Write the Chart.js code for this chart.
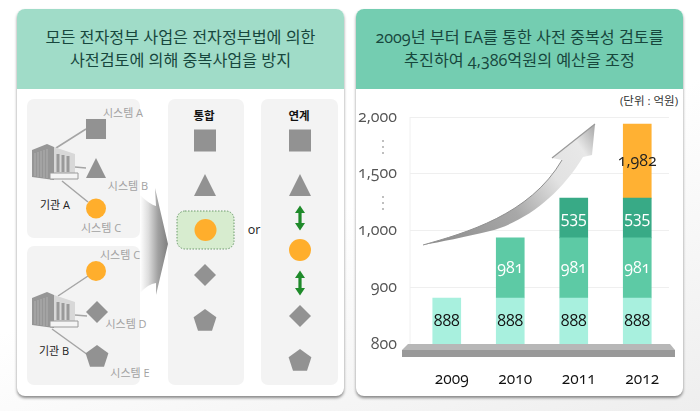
<!DOCTYPE html>
<html lang="ko">
<head>
<meta charset="utf-8">
<title>EA 사전 중복성 검토</title>
<script src="https://cdn.jsdelivr.net/npm/chart.js@4"></script>
<style>
    html, body { margin: 0; padding: 0; }
    body {
        position: relative; width: 700px; height: 411px; overflow: hidden;
        background: linear-gradient(160deg, #ffffff 50%, #eeeeee 100%);
        font-family: "Open Sans", "Noto Sans CJK KR", sans-serif;
        font-feature-settings: "onum";
    }
    .card { position: absolute; top: 9px; width: 327px; height: 387px; background: #fff; border-radius: 8px; box-shadow: 0 2px 3px rgba(0,0,0,0.45); overflow: hidden; }
    .card.left { left: 17px; }
    .card.right { left: 356px; }
    .head { height: 80px; text-align: center; color: #17473d; font-size: 16.2px; line-height: 23px; padding-top: 17px; box-sizing: border-box; }
    .left .head { background: #a0dcc8; }
    .right .head { background: #74cdb1; }
    .box { position: absolute; background: #f3f3f3; border-radius: 7px; }
    .lbl { position: absolute; transform: translate(-50%, -50%); white-space: nowrap; font-size: 11px; color: #a2a2a2; }
    .lbl.dark { color: #222; }
    .lbl.bold { color: #111; font-weight: 700; font-size: 11.5px; }
    #overlay, #diagram { position: absolute; left: 0; top: 0; pointer-events: none; }
    #chartWrap { position: absolute; left: 356px; top: 90px; width: 327px; height: 300px; }
</style>
</head>
<body>
<div class="card left"><div class="head">모든 전자정부 사업은 전자정부법에 의한<br>사전검토에 의해 중복사업을 방지</div></div>
<div class="card right"><div class="head">2009년 부터 EA를 통한 사전 중복성 검토를<br>추진하여 4,386억원의 예산을 조정</div></div>

<div class="box" style="left:27px;top:99px;width:113px;height:139px"></div>
<div class="box" style="left:27px;top:246px;width:113px;height:139px"></div>
<div class="box" style="left:168px;top:99px;width:76px;height:286px"></div>
<div class="box" style="left:261px;top:99px;width:77px;height:286px"></div>

<svg id="diagram" width="700" height="411">
    <defs>
        <rect id="sq" x="-11" y="-11" width="22" height="22" fill="#929292"/>
        <polygon id="tri" points="0,-12 11,10 -11,10" fill="#929292"/>
        <polygon id="dia" points="0,-11 11,0 0,11 -11,0" fill="#929292"/>
        <polygon id="pen" points="0,-12 11.4,-3.7 7,9.7 -7,9.7 -11.4,-3.7" fill="#929292"/>
        <path id="dbl" d="M0,-12.5 L5,-5 L1.6,-5 L1.6,5 L5,5 L0,12.5 L-5,5 L-1.6,5 L-1.6,-5 L-5,-5 Z" fill="#1f8a2a"/>
        <g id="bld">
            <polygon points="0,6 15,0 22,3 22,36 0,33" fill="#969696"/>
            <path d="M3,9V32M6,8V33M9,7V33M12,6V34M15,5V34" stroke="#b0b0b0" stroke-width="1"/>
            <polygon points="22,3 43,10 43,30 22,30" fill="#d8d8d8"/>
            <path d="M26,10V28M31,11V28M36,12V28" stroke="#9a9a9a" stroke-width="3"/>
            <polygon points="18,29 46,29 46,35 18,35" fill="#f4f4f4" stroke="#9a9a9a" stroke-width="1"/>
        </g>
        <linearGradient id="bigArrow" x1="0" x2="1" y1="0" y2="0">
            <stop offset="0" stop-color="#ffffff"/>
            <stop offset="0.3" stop-color="#dddddd"/>
            <stop offset="0.65" stop-color="#a0a0a0"/>
            <stop offset="1" stop-color="#7f7f7f"/>
        </linearGradient>
    </defs>

    <g stroke="#a5a5a5" stroke-width="1.5">
        <path d="M56,148L86,129M75,167L86,168M62,181L88,202M58,296L88,276M75,315L87,316M52,329L88,355"/>
    </g>
    <use href="#bld" x="32" y="144"/>
    <use href="#bld" x="32" y="292"/>
    <use href="#sq" transform="translate(96,129) scale(.91)"/>
    <use href="#tri" transform="translate(96,169) scale(.91)"/>
    <circle cx="96" cy="208.5" r="10" fill="#ffae2c"/>
    <circle cx="96" cy="271" r="10" fill="#ffae2c"/>
    <use href="#dia" x="97" y="312"/>
    <use href="#pen" x="97" y="357"/>

    <path d="M140,195 Q149,204 156,206 L155,188 L168,244 L156,295 L156,283 Q148,284 140,293 Z" fill="url(#bigArrow)"/>

    <use href="#sq" x="205" y="140.5"/>
    <use href="#tri" x="205" y="186"/>
    <rect x="177" y="211" width="57" height="38" rx="8" fill="#d7eccf" stroke="#6b9a6b" stroke-dasharray="1.5 1.5"/>
    <circle cx="205.5" cy="230" r="11" fill="#ffae2c"/>
    <use href="#dia" x="205" y="275"/>
    <use href="#pen" x="205" y="321"/>

    <use href="#sq" x="300" y="140.5"/>
    <use href="#tri" x="300" y="186"/>
    <use href="#dbl" x="300" y="218"/>
    <circle cx="300" cy="250" r="11" fill="#ffae2c"/>
    <use href="#dbl" x="300" y="283"/>
    <use href="#dia" x="300" y="316"/>
    <use href="#pen" x="300" y="361"/>
</svg>

<span class="lbl" style="left:123px;top:112px">시스템 A</span>
<span class="lbl" style="left:128px;top:185px">시스템 B</span>
<span class="lbl dark" style="left:55px;top:204px">기관 A</span>
<span class="lbl" style="left:101px;top:227px">시스템 C</span>
<span class="lbl" style="left:120px;top:254px">시스템 C</span>
<span class="lbl" style="left:126px;top:323px">시스템 D</span>
<span class="lbl dark" style="left:54px;top:350px">기관 B</span>
<span class="lbl" style="left:130px;top:372px">시스템 E</span>
<span class="lbl bold" style="left:204px;top:115px">통합</span>
<span class="lbl bold" style="left:299px;top:115px">연계</span>
<span class="lbl dark" style="left:254px;top:229px;font-size:12.5px">or</span>
<span class="lbl dark" style="left:649px;top:100px;font-size:11.5px;color:#333">(단위 : 억원)</span>

<div id="chartWrap"><canvas id="budgetChart" width="327" height="300"></canvas></div>

<svg id="overlay" width="700" height="411">
    <defs>
        <linearGradient id="swoosh" gradientUnits="userSpaceOnUse" x1="423" y1="245" x2="595" y2="124">
            <stop offset="0" stop-color="#8a8a8a"/>
            <stop offset="0.45" stop-color="#a8a8a8"/>
            <stop offset="0.7" stop-color="#e2e2e2"/>
            <stop offset="0.88" stop-color="#e8e8e8"/>
            <stop offset="1" stop-color="#a5a5a5"/>
        </linearGradient>
    </defs>
    <path d="M423,245 C465,233 530,215 562,160 L552,158 L595,124 L592,155 L583,157 C560,195 525,222 490,231 C465,237 440,242 423,245 Z" fill="url(#swoosh)"/>
    <path d="M423,245 C465,233 530,215 562,160" fill="none" stroke="#8f8f8f"/>
    <path d="M552,158 L595,124" fill="none" stroke="#999999" stroke-width="1.2"/>
    <g fill="#aaaaaa">
        <circle cx="383" cy="141" r="1"/><circle cx="383" cy="147" r="1"/><circle cx="383" cy="153" r="1"/>
        <circle cx="383" cy="197" r="1"/><circle cx="383" cy="203" r="1"/><circle cx="383" cy="209" r="1"/>
    </g>
    <path d="M410,117V344" stroke="#f0f0f0"/>
    <polygon points="408,344 670,344 675,350 402,350" fill="#b7b7b7"/>
    <rect x="402" y="350" width="273" height="7" fill="#999999"/>
</svg>

<script>
const years = ['2009', '2010', '2011', '2012'];
const axisTicks = [800, 900, 1000, 1500, 2000];

// printed on the bars
const labels888 = [888, 888, 888, 888];
const labels981 = [null, 981, 981, 981];
const labels535 = [null, null, 535, 535];
const labels1982 = [null, null, null, 1982];

// where the segment tops sit against the broken axis
const tops888 = [881, 881, 881, 881];
const tops981 = [null, 987, 987, 987];
const tops535 = [null, null, 1285, 1285];
const tops1982 = [null, null, null, 1938];

// axis is not linear, each tick gets the same distance
class BrokenScale extends Chart.LinearScale {
    buildTicks() {
        return axisTicks.map(v => ({ value: v }));
    }
    getPixelForValue(value) {
        let i = 0;
        while (i < axisTicks.length - 2 && value > axisTicks[i + 1]) i++;
        const part = (value - axisTicks[i]) / (axisTicks[i + 1] - axisTicks[i]);
        return this.getPixelForDecimal((i + part) / (axisTicks.length - 1));
    }
}
BrokenScale.id = 'broken';
BrokenScale.defaults = Chart.LinearScale.defaults;
Chart.register(BrokenScale);

const span = (lows, tops) => tops.map((t, i) => (t === null ? null : [lows ? lows[i] : 800, t]));

const barLabels = {
    id: 'barLabels',
    afterDatasetsDraw(chart) {
        const ctx = chart.ctx;
        ctx.save();
        ctx.textAlign = 'center';
        ctx.textBaseline = 'middle';
        ctx.font = '16px "Open Sans", sans-serif';
        chart.data.datasets.forEach((ds, d) => {
            chart.getDatasetMeta(d).data.forEach((bar, i) => {
                if (ds.printed[i] === null) return;
                const p = bar.getProps(['x', 'y', 'base'], true);
                ctx.fillStyle = ds.labelColor;
                ctx.fillText(ds.printed[i].toLocaleString('en-US'), p.x, (p.y + p.base) / 2);
            });
        });
        ctx.restore();
    }
};

new Chart(document.getElementById('budgetChart'), {
    type: 'bar',
    data: {
        labels: years,
        datasets: [
            { data: span(null, tops888), printed: labels888, labelColor: '#111', backgroundColor: '#a8f0de' },
            { data: span(tops888, tops981), printed: labels981, labelColor: '#fff', backgroundColor: '#5dcaa5' },
            { data: span(tops981, tops535), printed: labels535, labelColor: '#fff', backgroundColor: '#38aa86' },
            { data: span(tops535, tops1982), printed: labels1982, labelColor: '#222', backgroundColor: '#ffb133' }
        ]
    },
    options: {
        responsive: false,
        animation: false,
        grouped: false,
        barThickness: 28,
        layout: { padding: { top: 27, right: 14, left: 0, bottom: 0 } },
        plugins: { legend: { display: false }, tooltip: { enabled: false } },
        scales: {
            x: {
                grid: { display: false },
                border: { display: false },
                ticks: { color: '#111', font: { family: '"Open Sans"', size: 15.5 }, padding: 18, labelOffset: 5, maxRotation: 0 },
                afterFit: s => { s.height = 46; }
            },
            y: {
                type: 'broken',
                min: 800,
                max: 2000,
                grid: { color: '#efefef', tickLength: 5 },
                border: { display: false },
                ticks: {
                    color: '#555',
                    font: { family: '"Open Sans"', size: 16 },
                    padding: 13,
                    autoSkip: false,
                    callback: v => v.toLocaleString('en-US')
                },
                afterFit: s => { s.width = 59; }
            }
        }
    },
    plugins: [barLabels]
});
</script>
</body>
</html>
